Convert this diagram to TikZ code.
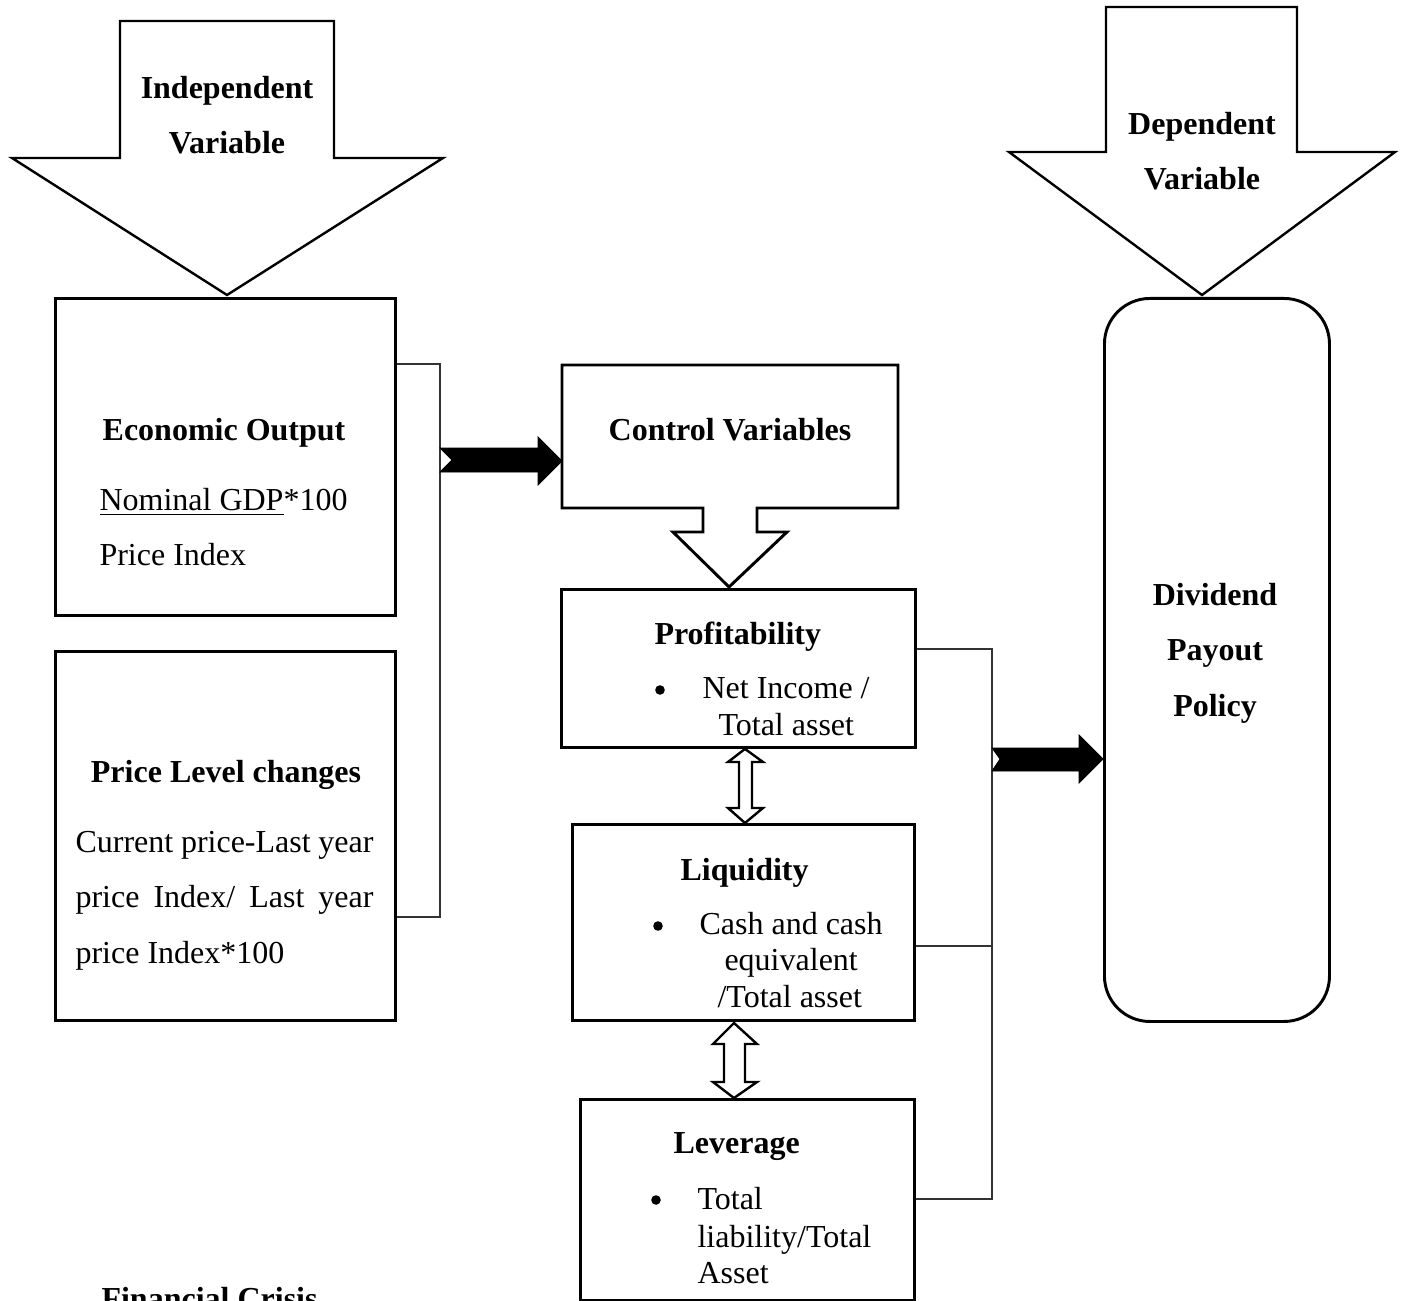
\documentclass[tikz,border=0pt]{standalone}
\usepackage{fontspec}
\setmainfont{Liberation Serif}
\begin{document}
\begin{tikzpicture}[x=0.375pt,y=-0.375pt,
  box/.style={draw,line width=1.1pt,inner sep=0pt,anchor=north west},
  shapeline/.style={draw,line width=0.9pt,line join=miter},
  thin/.style={draw,line width=0.55pt,color=black!80},
  blockarrow/.style={fill=black,draw=black,line width=0.3pt},
  bulletdot/.style={circle,fill=black,inner sep=0pt,minimum size=3.6pt},
  ttl/.style={font=\fontsize{12}{14}\selectfont\bfseries,inner sep=0pt,anchor=base},
  ttlw/.style={font=\fontsize{12}{14}\selectfont\bfseries,inner sep=0pt,anchor=base west},
  txt/.style={font=\fontsize{12}{14}\selectfont,inner sep=0pt,anchor=base west}]
\useasboundingbox (0,0) rectangle (1406,1301);

% Independent variable arrow
\draw[shapeline] (120,21) -- (334,21) -- (334,158) -- (443,158) -- (227,295) -- (12,158) -- (120,158) -- cycle;
\node[ttl] (indep1) at (227,99) {Independent};
\node[ttl] (indep2) at (227,154) {Variable};

% Dependent variable arrow
\draw[shapeline] (1106,7) -- (1297,7) -- (1297,152) -- (1395,152) -- (1202,295) -- (1009,152) -- (1106,152) -- cycle;
\node[ttl] (dep1) at (1202,135) {Dependent};
\node[ttl] (dep2) at (1202,190) {Variable};

% Economic output box
\node[box,minimum width={340*0.375pt},minimum height={317*0.375pt}] (eco) at (54,297) {};
\node[ttl] (ecot) at (224,441) {Economic Output};
\node[txt] (eco1) at (99,510) {\underline{Nominal GDP}*100};
\node[txt] (eco2) at (99,565) {Price Index};

% Price level box
\node[box,minimum width={340*0.375pt},minimum height={369*0.375pt}] (plc) at (54,650) {};
\node[ttl] (plct) at (226,782) {Price Level changes};
\node[txt] (plc1) at (75,852) {\makebox[111.75pt][s]{Current price-Last year}};
\node[txt] (plc2) at (75,907) {\makebox[111.75pt][s]{price Index/ Last year}};
\node[txt] (plc3) at (75,963) {price Index*100};

% left bracket
\coordinate (bl1) at (440,364);
\coordinate (bl2) at (440,917);
\draw[thin] (eco.east |- bl1) -- (bl1) -- (bl2) -- (plc.east |- bl2);

% Control variables box with arrow
\draw[shapeline,line width=1.1pt] (562,365) -- (898,365) -- (898,508) -- (757,508) -- (757,532) -- (787,532) -- (729,587) -- (673,532) -- (703,532) -- (703,508) -- (562,508) -- cycle;
\node[inner sep=0pt,minimum width={336*0.375pt},minimum height={143*0.375pt},anchor=north west] (ctrl) at (562,365) {};
\node[ttl] (ctrlt) at (730,440) {Control Variables};

% black arrow 1
\draw[blockarrow] (bl1 |- 0,448) -- (538,448) -- (538,437) -- (ctrl.west |- 0,461) -- (538,485) -- (538,472) -- (bl1 |- 0,472) -- (452,460) -- cycle;

% Profitability box
\node[box,minimum width={354*0.375pt},minimum height={158*0.375pt}] (prof) at (560,588) {};
\node[ttlw] (proft) at (654,644) {Profitability};
\node[bulletdot] (profb) at (660,690) {};
\node[txt] (prof1) at (702,698) {Net Income /};
\node[txt] (prof2) at (718,735) {Total asset};

% Liquidity box
\node[box,minimum width={342*0.375pt},minimum height={196*0.375pt}] (liq) at (571,823) {};
\node[ttlw] (liqt) at (680,880) {Liquidity};
\node[bulletdot] (liqb) at (658,926) {};
\node[txt] (liq1) at (699,934) {Cash and cash};
\node[txt] (liq2) at (724,970) {equivalent};
\node[txt] (liq3) at (717,1007) {/Total asset};

% Leverage box
\node[box,minimum width={334*0.375pt},minimum height={201*0.375pt}] (lev) at (579,1098) {};
\node[ttlw] (levt) at (673,1153) {Leverage};
\node[bulletdot] (levb) at (656,1200) {};
\node[txt] (lev1) at (697,1209) {Total};
\node[txt] (lev2) at (697,1247) {liability/Total};
\node[txt] (lev3) at (697,1283) {Asset};

% double arrows
\draw[shapeline] (prof.south -| 745,0) -- (763,762) -- (752,762) -- (752,808) -- (763,808) -- (liq.north -| 745,0) -- (728,808) -- (739,808) -- (739,762) -- (728,762) -- cycle;
\draw[shapeline] (734,1023) -- (757,1044) -- (745,1044) -- (745,1082) -- (757,1082) -- (lev.north -| 734,0) -- (713,1082) -- (724,1082) -- (724,1044) -- (713,1044) -- cycle;

% right bracket
\coordinate (br1) at (992,649);
\coordinate (br2) at (992,946);
\coordinate (br3) at (992,1199);
\draw[thin] (prof.east |- br1) -- (br1) -- (br3) -- (lev.east |- br3);
\draw[thin] (liq.east |- br2) -- (br2);

% Dividend box
\node[box,rounded corners=17pt,minimum width={225*0.375pt},minimum height={723*0.375pt}] (div) at (1103,297) {};
\node[ttl] (div1) at (1215,605) {Dividend};
\node[ttl] (div2) at (1215,660) {Payout};
\node[ttl] (div3) at (1215,716) {Policy};

% black arrow 2
\draw[blockarrow] (br1 |- 0,748) -- (1079,748) -- (1079,735) -- (div.west |- 0,759) -- (1079,783) -- (1079,771) -- (br1 |- 0,771) -- (1000,759) -- cycle;

% Financial crisis (cut off at the lower edge, as in the reference)
\node[ttlw] (fin) at (101,1309) {Financial Crisis};
\end{tikzpicture}
\end{document}
